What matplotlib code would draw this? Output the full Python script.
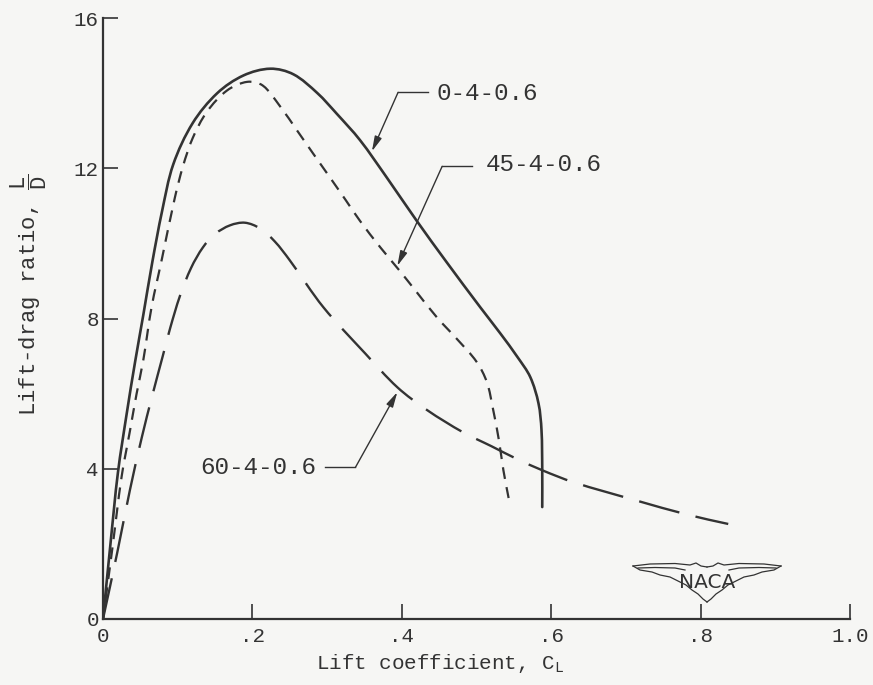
import matplotlib
matplotlib.use("Agg")
import matplotlib.pyplot as plt
from matplotlib.path import Path
from matplotlib.patches import PathPatch
import numpy as np

# ---- data: lift-drag ratio against lift coefficient ----
cl_0 = [0, .01, .02, .032, .043, .054, .066, .079, .094, .12, .153, .188, .224,
        .255, .287, .313, .344, .38, .42, .46, .505, .532, .555, .572, .583, .587, .588, .588]
ld_0 = [0, 2.0, 3.9, 5.5, 6.85, 8.1, 9.5, 10.85, 12.1, 13.2, 14.0, 14.47, 14.65,
        14.5, 14.0, 13.45, 12.75, 11.75, 10.6, 9.5, 8.3, 7.6, 6.97, 6.44, 5.74, 5.03, 3.96, 2.98]

cl_45 = [0, .012, .025, .036, .045, .054, .065, .079, .096, .107, .12, .139, .166, .193,
         .214, .237, .26, .281, .304, .325, .344, .371, .398, .42, .447, .474, .5, .514,
         .522, .53, .536, .543]
ld_45 = [0, 1.8, 3.8, 5.0, 6.0, 6.9, 8.3, 9.6, 11.2, 12.05, 12.8, 13.5, 14.07, 14.3,
         14.2, 13.65, 13.0, 12.4, 11.75, 11.15, 10.6, 9.9, 9.25, 8.7, 8.03, 7.45, 6.85, 6.3,
         5.6, 4.76, 3.96, 3.22]

cl_60 = [0, .019, .036, .052, .066, .08, .09, .103, .118, .134, .15, .17, .19, .21, .23,
         .25, .295, .351, .394, .434, .482, .52, .552, .588, .63, .713, .784, .837]
ld_60 = [0, 1.76, 3.43, 4.84, 5.95, 7.0, 7.75, 8.6, 9.35, 9.9, 10.25, 10.48, 10.55, 10.4,
         10.05, 9.55, 8.3, 7.07, 6.17, 5.56, 4.97, 4.6, 4.28, 3.96, 3.64, 3.16, 2.77, 2.53]

x_ticks = [0, .2, .4, .6, .8, 1.0]
x_tick_labels = ["0", ".2", ".4", ".6", ".8", "1.0"]
y_ticks = [0, 4, 8, 12, 16]
y_tick_labels = ["0", "4", "8", "12", "16"]

labels = ["0-4-0.6", "45-4-0.6", "60-4-0.6"]

# ---- style ----
ink = "#333333"
paper = "#f6f6f4"
mono = "Liberation Mono"
plt.rcParams["font.family"] = [mono, "DejaVu Sans Mono"]
plt.rcParams["mathtext.fontset"] = "custom"
plt.rcParams["mathtext.rm"] = mono
plt.rcParams["mathtext.it"] = mono
plt.rcParams["mathtext.bf"] = mono
plt.rcParams["lines.scale_dashes"] = False

fig = plt.figure(figsize=(8.73, 6.85), dpi=100, facecolor=paper)
ax = fig.add_axes([103 / 873, 66 / 685, 747 / 873, 601 / 685])
ax.set_facecolor(paper)
ax.set_xlim(0, 1.0)
ax.set_ylim(0, 16)

# scale factors so chord lengths are measured roughly as they appear on the page
SX, SY = 747.0, 601.0 / 16.0


def smooth_curve(xs, ys):
    """Cubic Bezier path through the given points (chord-length Catmull-Rom)."""
    p = np.column_stack([np.asarray(xs) * SX, np.asarray(ys) * SY])
    d = np.hypot(*np.diff(p, axis=0).T)
    n = len(p)
    m = np.zeros_like(p)
    m[0] = (p[1] - p[0]) / d[0]
    m[-1] = (p[-1] - p[-2]) / d[-1]
    for i in range(1, n - 1):
        m[i] = (p[i + 1] - p[i - 1]) / (d[i - 1] + d[i])
    verts = [p[0]]
    codes = [Path.MOVETO]
    for i in range(n - 1):
        verts += [p[i] + m[i] * d[i] / 3, p[i + 1] - m[i + 1] * d[i] / 3, p[i + 1]]
        codes += [Path.CURVE4] * 3
    verts = np.array(verts) / np.array([SX, SY])
    return Path(verts, codes)


ax.add_patch(PathPatch(smooth_curve(cl_0, ld_0), fill=False, edgecolor=ink, lw=1.9,
                       capstyle="round", joinstyle="round"))
ax.add_patch(PathPatch(smooth_curve(cl_45, ld_45), fill=False, edgecolor=ink, lw=1.6,
                       linestyle=(0, (8.5, 6))))
ax.add_patch(PathPatch(smooth_curve(cl_60, ld_60), fill=False, edgecolor=ink, lw=1.7,
                       linestyle=(0, (30, 12))))

for side in ("top", "right"):
    ax.spines[side].set_visible(False)
for side in ("left", "bottom"):
    ax.spines[side].set_color(ink)
    ax.spines[side].set_linewidth(1.6)

ax.set_xticks(x_ticks)
ax.set_xticklabels(x_tick_labels)
ax.set_yticks(y_ticks)
ax.set_yticklabels(y_tick_labels)
ax.tick_params(axis="both", direction="in", length=11, width=1.2, color=ink,
               labelcolor=ink, labelsize=15)
ax.tick_params(axis="x", pad=6)
ax.tick_params(axis="y", pad=3)

ax.set_xlabel("Lift coefficient, C$_{\\mathrm{L}}$", fontsize=15, color=ink)
ax.xaxis.set_label_coords(0.451, -0.055)
ax.set_ylabel("Lift-drag ratio, $\\dfrac{L}{D}$", fontsize=16, color=ink)
ax.yaxis.set_label_coords(-0.072, 0.54)

# ---- leader labels ----
arrow_kw = dict(arrowstyle="-|>,head_length=0.9,head_width=0.22", color=ink, lw=1.0,
                shrinkA=0, shrinkB=0)


def leader(text, text_xy, rule, tip, ha):
    """Label text, a short horizontal rule, then an arrow to the curve."""
    ax.text(text_xy[0], text_xy[1], text, fontsize=17.5, color=ink, ha=ha, va="center")
    ax.plot([rule[0][0], rule[1][0]], [rule[0][1], rule[1][1]], color=ink, lw=1.0)
    ax.annotate("", xy=tip, xytext=rule[1], arrowprops=arrow_kw)


leader(labels[0], (0.447, 13.99), ((0.435, 14.02), (0.395, 14.02)), (0.36, 12.45), "left")
leader(labels[1], (0.512, 12.10), ((0.494, 12.05), (0.454, 12.05)), (0.394, 9.4), "left")
leader(labels[2], (0.285, 4.02), ((0.297, 4.04), (0.338, 4.04)), (0.394, 6.04), "right")

# ---- NACA wings emblem ----
logo = fig.add_axes([630 / 873, 80 / 685, 160 / 873, 47 / 685])
logo.set_xlim(0, 160)
logo.set_ylim(0, 47)
logo.axis("off")
logo.patch.set_alpha(0)
cx = 77
wing_top = [(3, 39), (20, 41), (45, 41.5), (60, 40), (66, 42), (71, 39), (cx, 38)]
wing_bot = [(3, 39), (10, 35), (22, 33), (30, 30), (40, 28), (48, 24), (56, 20),
            (62, 15), (68, 11), (73, 6), (cx, 3)]
wing_inner = [(8, 37), (25, 37.5), (45, 37), (55, 35)]
for pts in (wing_top, wing_bot, wing_inner):
    xs = [q[0] for q in pts]
    ys = [q[1] for q in pts]
    logo.plot(xs, ys, color=ink, lw=0.9)
    logo.plot([2 * cx - v for v in xs], ys, color=ink, lw=0.9)
logo.text(cx, 23, "NACA", fontsize=14.5, family="DejaVu Sans", color=ink,
          ha="center", va="center")

fig.savefig("out.png", dpi=100, facecolor=paper)
